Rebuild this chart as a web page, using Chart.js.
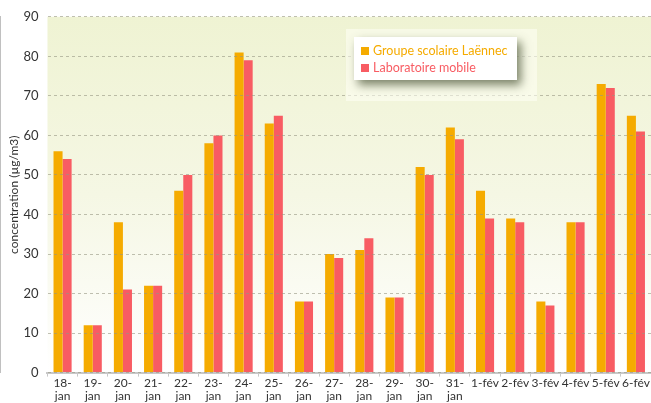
<!DOCTYPE html>
<html>
<head>
<meta charset="utf-8">
<script src="https://cdn.jsdelivr.net/npm/chart.js@4"></script>
<style>
    html, body { margin: 0; padding: 0; background: #fff; }
    #wrap { width: 651px; height: 403px; }
</style>
</head>
<body>
<div id="wrap"><canvas id="chart" width="651" height="403"></canvas></div>
<script>
// dates de mesure
var dates = [['18-', 'jan'], ['19-', 'jan'], ['20-', 'jan'], ['21-', 'jan'], ['22-', 'jan'],
    ['23-', 'jan'], ['24-', 'jan'], ['25-', 'jan'], ['26-', 'jan'], ['27-', 'jan'],
    ['28-', 'jan'], ['29-', 'jan'], ['30-', 'jan'], ['31-', 'jan'], '1-fév',
    '2-fév', '3-fév', '4-fév', '5-fév', '6-fév'];
// concentrations en µg/m3
var groupeScolaire = [56, 12, 38, 22, 46, 58, 81, 63, 18, 30, 31, 19, 52, 62, 46, 39, 18, 38, 73, 65];
var laboMobile = [54, 12, 21, 22, 50, 60, 79, 65, 18, 29, 34, 19, 50, 59, 39, 38, 17, 38, 72, 61];
var yTicks = [0, 10, 20, 30, 40, 50, 60, 70, 80, 90];

var orange = '#f5ab00';
var rouge = '#f85c63';
var police = 'Lato, "DejaVu Sans", sans-serif';

// fond dégradé de la zone de tracé
var fondPlugin = {
    id: 'fond',
    beforeDraw: function (chart) {
        var a = chart.chartArea, ctx = chart.ctx;
        var g = ctx.createLinearGradient(0, a.top, 0, a.bottom);
        g.addColorStop(0, '#eff3d3');
        g.addColorStop(0.5, '#f5f7e4');
        g.addColorStop(1, '#ffffff');
        ctx.save();
        ctx.fillStyle = g;
        ctx.fillRect(a.left, a.top, a.right - a.left, a.bottom - a.top);
        ctx.restore();
    }
};

// légende encadrée avec ombre
var legendePlugin = {
    id: 'legende',
    afterDraw: function (chart) {
        var ctx = chart.ctx;
        var x = 354, y = 37, w = 163, h = 43;
        ctx.save();
        ctx.fillStyle = 'rgba(255,255,245,0.55)';
        ctx.fillRect(346, 29, 191, 72);
        ctx.shadowColor = 'rgba(70,80,50,0.7)';
        ctx.shadowBlur = 9;
        ctx.shadowOffsetX = 4;
        ctx.shadowOffsetY = 5;
        ctx.fillStyle = '#ffffff';
        ctx.fillRect(x, y, w, h);
        ctx.restore();
        ctx.save();
        ctx.font = '12.5px ' + police;
        ctx.textBaseline = 'middle';
        chart.data.datasets.forEach(function (ds, i) {
            var cy = y + 14 + i * 17;
            ctx.fillStyle = ds.backgroundColor;
            ctx.fillRect(x + 7, cy - 4, 8, 8);
            ctx.fillText(ds.label, x + 19, cy);
        });
        ctx.restore();
    }
};

var chart = new Chart(document.getElementById('chart'), {
    type: 'bar',
    data: {
        labels: dates,
        datasets: [
            { label: 'Groupe scolaire Laënnec', data: groupeScolaire, backgroundColor: orange },
            { label: 'Laboratoire mobile', data: laboMobile, backgroundColor: rouge }
        ]
    },
    options: {
        responsive: false,
        animation: false,
        layout: { padding: { top: 8, right: 0, left: 0, bottom: 0 } },
        datasets: { bar: { categoryPercentage: 0.6, barPercentage: 1.0 } },
        plugins: {
            legend: { display: false },
            tooltip: { enabled: false }
        },
        scales: {
            x: {
                offset: true,
                grid: { display: true, offset: true, drawOnChartArea: false, drawTicks: true, tickLength: 4, color: 'rgba(0,0,0,0)', tickColor: '#c8c8c8' },
                border: { display: true, color: '#c8c8c8', width: 2 },
                ticks: { color: '#333', font: { family: police, size: 12, lineHeight: 1.1 }, maxRotation: 0, autoSkip: false, padding: 0 }
            },
            y: {
                min: 0, max: 90,
                afterBuildTicks: function (axis) { axis.ticks = yTicks.map(function (v) { return { value: v }; }); },
                grid: { color: 'rgba(150,150,130,0.6)', drawTicks: false, z: 1 },
                border: { display: true, color: '#c0c0c0', width: 2, dash: [3, 3] },
                ticks: { color: '#333', font: { family: police, size: 13 }, padding: 9 },
                title: { display: true, text: 'concentration (µg/m3)', color: '#333', font: { family: police, size: 12 }, padding: { top: 7, bottom: -7 } }
            }
        }
    },
    plugins: [fondPlugin, legendePlugin]
});
</script>
</body>
</html>
